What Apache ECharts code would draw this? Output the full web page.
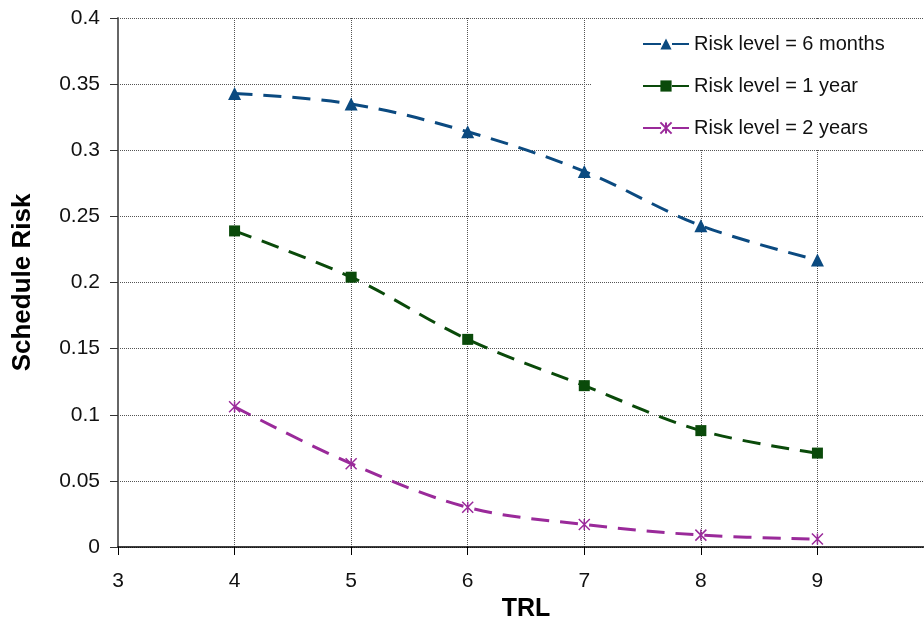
<!DOCTYPE html>
<html><head><meta charset="utf-8">
<script src="https://cdn.jsdelivr.net/npm/echarts@6/dist/echarts.min.js"></script>
<style>html,body{margin:0;padding:0;background:#fff}#c{width:924px;height:620px}</style>
</head><body><div id="c"></div>
<script>
const trl = [4, 5, 6, 7, 8, 9];
const risk6m = [0.343, 0.335, 0.314, 0.284, 0.243, 0.217];
const risk1y = [0.239, 0.204, 0.157, 0.122, 0.088, 0.071];
const risk2y = [0.106, 0.063, 0.030, 0.017, 0.009, 0.006];
const names = ['Risk level = 6 months', 'Risk level = 1 year', 'Risk level = 2 years'];
const colors = ['#0b4a80', '#0a4a0a', '#9a2a9a'];
const font = 'Liberation Sans, Arial, Helvetica, sans-serif';

const chart = echarts.init(document.getElementById('c'));
function pairs(ys){ return trl.map((x,i)=>[x, ys[i]]); }
const dash = [18, 11];
const grid = { type: [1, 1], color: '#555', width: 1 };
chart.setOption({
  animation: false,
  backgroundColor: '#fff',
  grid: { left: 118, top: 18, width: 816, height: 529, outerBoundsMode: 'none', containLabel: false },
  legend: {
    left: 592, top: 20, orient: 'vertical', itemGap: 22,
    itemWidth: 46, itemHeight: 14,
    backgroundColor: '#fff', padding: [14, 60, 11, 50],
    textStyle: { fontFamily: font, fontSize: 20, color: '#111' },
    data: names
  },
  xAxis: {
    type: 'value', min: 3, max: 10, interval: 1,
    name: 'TRL', nameLocation: 'middle', nameGap: 47,
    nameTextStyle: { fontFamily: font, fontSize: 25, fontWeight: 'bold', color: '#000' },
    axisLine: { show: true, onZero: false, lineStyle: { color: '#000', width: 1.5 } },
    axisTick: { show: true, length: 8, lineStyle: { color: '#000' } },
    axisLabel: { fontFamily: font, fontSize: 21, color: '#111', margin: 24,
      formatter: v => (v >= 10 ? '' : String(v)) },
    splitLine: { show: true, lineStyle: grid }
  },
  yAxis: {
    type: 'value', min: 0, max: 0.4, interval: 0.05,
    name: 'Schedule Risk', nameLocation: 'middle', nameGap: 82,
    nameTextStyle: { fontFamily: font, fontSize: 26, fontWeight: 'bold', color: '#000' },
    axisLine: { show: true, lineStyle: { color: '#666', width: 2 } },
    axisTick: { show: true, length: 8, lineStyle: { color: '#333' } },
    axisLabel: { fontFamily: font, fontSize: 21, color: '#111', margin: 18 },
    splitLine: { show: true, lineStyle: grid }
  },
  series: [
    { name: names[0], type: 'line', data: pairs(risk6m), smooth: 0.35,
      symbol: 'triangle', symbolSize: 13, color: colors[0],
      lineStyle: { type: dash, width: 3, color: colors[0] },
      itemStyle: { color: colors[0] } },
    { name: names[1], type: 'line', data: pairs(risk1y), smooth: 0.35,
      symbol: 'rect', symbolSize: 11, color: colors[1],
      lineStyle: { type: dash, width: 3, color: colors[1] },
      itemStyle: { color: colors[1] } },
    { name: names[2], type: 'line', data: pairs(risk2y), smooth: 0.35,
      symbol: 'path://M0,0L10,10M10,0L0,10M5,0L5,10', symbolSize: 11, color: colors[2],
      lineStyle: { type: dash, width: 3, color: colors[2] },
      itemStyle: { color: 'none', borderColor: colors[2], borderWidth: 1.5 } }
  ]
});
</script></body></html>
